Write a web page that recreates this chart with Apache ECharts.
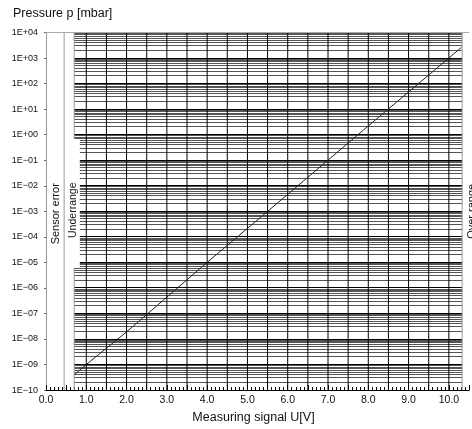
<!DOCTYPE html>
<html><head><meta charset="utf-8">
<script src="https://cdn.jsdelivr.net/npm/echarts@6/dist/echarts.min.js"></script>
<style>html,body{margin:0;padding:0;background:#fff}#c{width:472px;height:429px}</style>
</head><body><div id="c"></div>
<script>
// ---- data ----
const xTickValues = [0, 1, 2, 3, 4, 5, 6, 7, 8, 9, 10];
const xTickLabels = ['0.0', '1.0', '2.0', '3.0', '4.0', '5.0', '6.0', '7.0', '8.0', '9.0', '10.0'];
const yExponents = [-10, -9, -8, -7, -6, -5, -4, -3, -2, -1, 0, 1, 2, 3, 4];
const yTickLabels = ['1E\u221210', '1E\u221209', '1E\u221208', '1E\u221207', '1E\u221206', '1E\u221205', '1E\u221204',
  '1E\u221203', '1E\u221202', '1E\u221201', '1E+00', '1E+01', '1E+02', '1E+03', '1E+04'];
const gridMantissas = [1, 2, 3, 4, 5, 6, 7, 8, 9];
const curveU = [0.71, 1.0, 2.0, 4.0, 6.0, 8.0, 10.0, 10.31];
const curveP = [4.1e-10, 1.0e-9, 1.9e-8, 1.0e-5, 4.6e-3, 2.2, 1.0e3, 2.6e3];
const regionLabels = ['Sensor error', 'Underrange', 'Over range'];
const regionU = [0.25, 0.68, 10.57];
const regionP = [8.0e-4, 1.1e-3, 1.0e-3];

const FONT = '"Liberation Sans", Arial, sans-serif';

// horizontal log grid lines
const hLines = [];
yExponents.forEach(e => {
  if (e >= 4) return;
  gridMantissas.forEach(m => {
    if (e === -10 && m === 1) return;
    const p = m * Math.pow(10, e);
    const x0 = (p >= 7e-6 && p <= 0.65) ? 0.84 : 0.70;
    hLines.push([x0, 10.33, p, m === 1 ? 1 : 0]);
  });
});
// vertical grid lines (black) every 0.5 V from 1.0 to 10.0
const vBlack = [];
for (let k = 2; k <= 20; k++) vBlack.push([k * 0.5, 1e-10, 1e4]);
// gray boundary lines
const vGray = [
  [0.45, 1e-10, 1e4],
  [0.70, 1e-10, 6.2e-6],
  [0.70, 0.68, 1e4],
  [10.33, 1e-10, 1e4]
];
const topLine = [[0, 10.5, 1e4, 1]];

function hRender(color, minorColor) {
  return function (params, api) {
    const a = api.coord([api.value(0), api.value(2)]);
    const b = api.coord([api.value(1), api.value(2)]);
    const y = Math.round(a[1] - 0.5) + 0.5;
    return { type: 'line', shape: { x1: a[0], y1: y, x2: b[0], y2: y },
      style: { stroke: api.value(3) ? color : minorColor, lineWidth: 1 } };
  };
}
function vRender(color) {
  return function (params, api) {
    const a = api.coord([api.value(0), api.value(1)]);
    const b = api.coord([api.value(0), api.value(2)]);
    return { type: 'line', shape: { x1: a[0], y1: a[1], x2: b[0], y2: b[1] },
      style: { stroke: color, lineWidth: 1 } };
  };
}

const chart = echarts.init(document.getElementById('c'), null, { renderer: 'canvas' });
chart.setOption({
  animation: false,
  backgroundColor: '#fff',
  title: { text: 'Pressure p [mbar]', left: 13, top: 7, padding: 0,
    textStyle: { fontSize: 12.5, fontWeight: 'normal', color: '#111', fontFamily: FONT } },
  grid: { left: 46, top: 32.5, right: 0, bottom: 38.5 },
  xAxis: {
    type: 'value', min: 0, max: 10.5, interval: 0.5,
    axisLine: { lineStyle: { color: '#000', width: 1 } },
    axisTick: { inside: true, length: 5, lineStyle: { color: '#000' } },
    minorTick: { show: true, splitNumber: 5, length: 3, lineStyle: { color: '#000' } },
    splitLine: { show: false },
    axisLabel: { margin: 5, fontSize: 10.5, color: '#111', fontFamily: FONT, interval: 0,
      formatter: v => { const r = Math.round(v * 10) / 10; const i = xTickValues.indexOf(r); return i >= 0 ? xTickLabels[i] : ''; } },
    name: 'Measuring signal U[V]', nameLocation: 'middle', nameGap: 19,
    nameTextStyle: { fontSize: 12.5, color: '#111', fontFamily: FONT, padding: [0, 8, 0, 0] }
  },
  yAxis: {
    type: 'log', logBase: 10, min: 1e-10, max: 1e4, interval: 1,
    axisLine: { lineStyle: { color: '#999', width: 1 } },
    axisTick: { inside: false, length: 2, lineStyle: { color: '#666' } },
    splitLine: { show: false },
    axisLabel: { margin: 8, fontSize: 9, color: '#111', fontFamily: FONT,
      formatter: v => { const i = yExponents.indexOf(Math.round(Math.log10(v))); return i >= 0 ? yTickLabels[i] : ''; } }
  },
  series: [
    { type: 'custom', name: 'hgrid', renderItem: hRender('#000', '#555'), data: hLines, encode: { x: [0, 1], y: 2 }, silent: true, z: 1 },
    { type: 'custom', name: 'vgrid', renderItem: vRender('#000'), data: vBlack, encode: { x: 0, y: [1, 2] }, silent: true, z: 1 },
    { type: 'custom', name: 'vgray', renderItem: vRender('#999'), data: vGray, encode: { x: 0, y: [1, 2] }, silent: true, z: 1 },
    { type: 'custom', name: 'top', renderItem: hRender('#aaa', '#aaa'), data: topLine, encode: { x: [0, 1], y: 2 }, silent: true, z: 1 },
    { type: 'line', name: 'curve', data: curveU.map((u, i) => [u, curveP[i]]), symbol: 'none',
      lineStyle: { color: '#222', width: 1 }, z: 5, silent: true },
    { type: 'custom', name: 'regions', silent: true, z: 6,
      data: regionLabels.map((t, i) => [regionU[i], regionP[i], i]), encode: { x: 0, y: 1 },
      renderItem: function (params, api) {
        const c = api.coord([api.value(0), api.value(1)]);
        const i = api.value(2);
        return { type: 'text', x: c[0], y: c[1], rotation: Math.PI / 2,
          style: { text: regionLabels[i], fontSize: i === 1 ? 10.5 : 11, fontFamily: FONT, fill: '#111',
            align: 'center', verticalAlign: 'middle' } };
      } }
  ]
});
</script></body></html>
